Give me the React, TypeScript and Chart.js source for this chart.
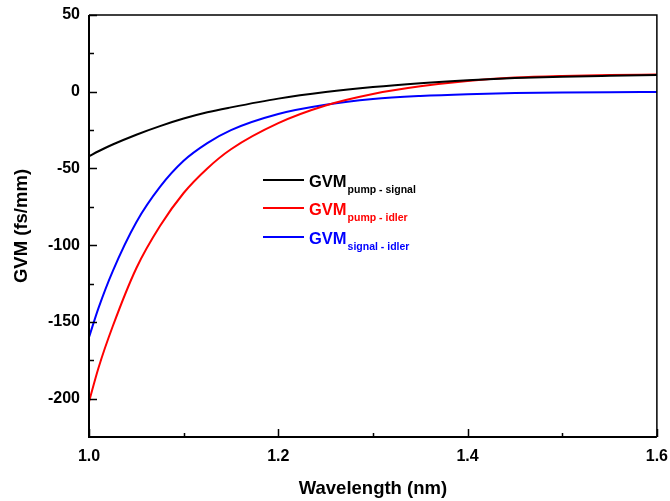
import React, { useEffect, useRef } from "react";
import { Chart, registerables } from "chart.js";

Chart.register(...registerables);

const wavelengths = [1.0, 1.01, 1.025, 1.05, 1.075, 1.1, 1.125, 1.15, 1.2, 1.25, 1.3, 1.35, 1.4, 1.45, 1.5, 1.55, 1.6];
const gvmPumpSignal = [-42, -38.8, -34.4, -28, -22.4, -17.5, -13.4, -10.2, -4.5, -0.2, 3.1, 5.6, 7.5, 8.9, 9.8, 10.4, 10.9];
const gvmPumpIdler = [-202, -180, -153, -115, -87.5, -66, -50, -37.5, -20.5, -9, -1.5, 3.5, 7.0, 9.2, 10.3, 10.9, 11.2];
const gvmSignalIdler = [-160, -141, -117, -85, -62, -45, -33.5, -25, -14.5, -8.5, -4.8, -2.8, -1.6, -0.9, -0.5, -0.3, -0.2];

const xMajorTicks = [1.0, 1.2, 1.4, 1.6];
const xMinorTicks = [1.1, 1.3, 1.5];
const yMajorTicks = [-200, -150, -100, -50, 0, 50];
const yMinorTicks = [-175, -125, -75, -25, 25];

const legendItems = [
  { main: "GVM", sub: "pump - signal", color: "#000000" },
  { main: "GVM", sub: "pump - idler", color: "#ff0000" },
  { main: "GVM", sub: "signal - idler", color: "#0000ff" },
];

const FONT = "'Liberation Sans', Arial, Helvetica, sans-serif";

const toPoints = (ys: number[]) => wavelengths.map((x, i) => ({ x, y: ys[i] }));

const decorPlugin = {
  id: "decor",
  afterDraw(chart: any) {
    const ctx = chart.ctx as CanvasRenderingContext2D;
    const { left, right, top, bottom } = chart.chartArea;
    const xs = chart.scales.x;
    const ys = chart.scales.y;
    ctx.save();
    ctx.strokeStyle = "#000";
    ctx.lineWidth = 1.5;
    ctx.beginPath();
    ctx.moveTo(left, top);
    ctx.lineTo(right, top);
    ctx.lineTo(right, bottom);
    ctx.stroke();
    ctx.lineWidth = 2;
    ctx.beginPath();
    ctx.moveTo(left, top);
    ctx.lineTo(left, bottom);
    ctx.lineTo(right, bottom);
    ctx.stroke();
    ctx.lineWidth = 1.5;
    ctx.beginPath();
    yMajorTicks.forEach((v) => {
      const p = Math.round(ys.getPixelForValue(v)) + 0.5;
      ctx.moveTo(left, p);
      ctx.lineTo(left + 8, p);
    });
    yMinorTicks.forEach((v) => {
      const p = Math.round(ys.getPixelForValue(v)) + 0.5;
      ctx.moveTo(left, p);
      ctx.lineTo(left + 5, p);
    });
    xMajorTicks.forEach((v) => {
      const p = Math.round(xs.getPixelForValue(v)) + 0.5;
      ctx.moveTo(p, bottom);
      ctx.lineTo(p, bottom - 8);
    });
    xMinorTicks.forEach((v) => {
      const p = Math.round(xs.getPixelForValue(v)) + 0.5;
      ctx.moveTo(p, bottom);
      ctx.lineTo(p, bottom - 4);
    });
    ctx.stroke();

    ctx.fillStyle = "#000";
    ctx.font = `bold 18.5px ${FONT}`;
    ctx.textAlign = "center";
    ctx.textBaseline = "alphabetic";
    ctx.fillText("Wavelength (nm)", (left + right) / 2, 494);
    ctx.save();
    ctx.translate(27, (top + bottom) / 2);
    ctx.rotate(-Math.PI / 2);
    ctx.fillText("GVM (fs/mm)", 0, 0);
    ctx.restore();

    const lineYs = [180, 208, 237];
    legendItems.forEach((item, i) => {
      const y = lineYs[i];
      ctx.strokeStyle = item.color;
      ctx.lineWidth = 2;
      ctx.beginPath();
      ctx.moveTo(263, y);
      ctx.lineTo(304, y);
      ctx.stroke();
      ctx.fillStyle = item.color;
      ctx.textAlign = "left";
      ctx.textBaseline = "alphabetic";
      ctx.font = `bold 16.5px ${FONT}`;
      const base = y + 6.5;
      ctx.fillText(item.main, 309, base);
      const w = ctx.measureText(item.main).width;
      ctx.font = `bold 10.5px ${FONT}`;
      ctx.fillText(item.sub, 309 + w + 1, base + 6);
    });
    ctx.restore();
  },
};

export default function App() {
  const canvasRef = useRef<HTMLCanvasElement | null>(null);

  useEffect(() => {
    document.body.style.margin = "0";
    const canvas = canvasRef.current;
    if (!canvas) return;
    const chart = new Chart(canvas, {
      type: "line",
      data: {
        datasets: [
          {
            label: "GVM pump - signal",
            data: toPoints(gvmPumpSignal),
            borderColor: "#000000",
            borderWidth: 2,
            pointRadius: 0,
            cubicInterpolationMode: "monotone",
            fill: false,
          },
          {
            label: "GVM pump - idler",
            data: toPoints(gvmPumpIdler),
            borderColor: "#ff0000",
            borderWidth: 2,
            pointRadius: 0,
            cubicInterpolationMode: "monotone",
            fill: false,
          },
          {
            label: "GVM signal - idler",
            data: toPoints(gvmSignalIdler),
            borderColor: "#0000ff",
            borderWidth: 2,
            pointRadius: 0,
            cubicInterpolationMode: "monotone",
            fill: false,
          },
        ],
      },
      options: {
        responsive: false,
        animation: false,
        layout: { padding: { left: 0, right: 7, top: 15, bottom: 0 } },
        plugins: {
          legend: { display: false },
          tooltip: { enabled: false },
        },
        scales: {
          x: {
            type: "linear",
            min: 1.0,
            max: 1.6,
            grid: { display: false },
            border: { display: false },
            afterBuildTicks: (scale: any) => {
              scale.ticks = xMajorTicks.map((v) => ({ value: v }));
            },
            afterFit: (scale: any) => {
              scale.height = 64;
            },
            ticks: {
              color: "#000",
              padding: 2,
              font: { family: FONT, size: 16, weight: "bold" },
              callback: (v: any) => Number(v).toFixed(1),
              maxRotation: 0,
            },
          },
          y: {
            type: "linear",
            min: -225,
            max: 50,
            grid: { display: false },
            border: { display: false },
            afterBuildTicks: (scale: any) => {
              scale.ticks = yMajorTicks.map((v) => ({ value: v }));
            },
            afterFit: (scale: any) => {
              scale.width = 89;
            },
            ticks: {
              color: "#000",
              padding: 1,
              font: { family: FONT, size: 16, weight: "bold" },
              callback: (v: any) => String(v),
            },
          },
        },
      },
      plugins: [decorPlugin],
    } as any);
    return () => chart.destroy();
  }, []);

  return (
    <div style={{ width: 670, height: 501 }}>
      <canvas ref={canvasRef} width={670} height={501} style={{ display: "block" }} />
    </div>
  );
}
